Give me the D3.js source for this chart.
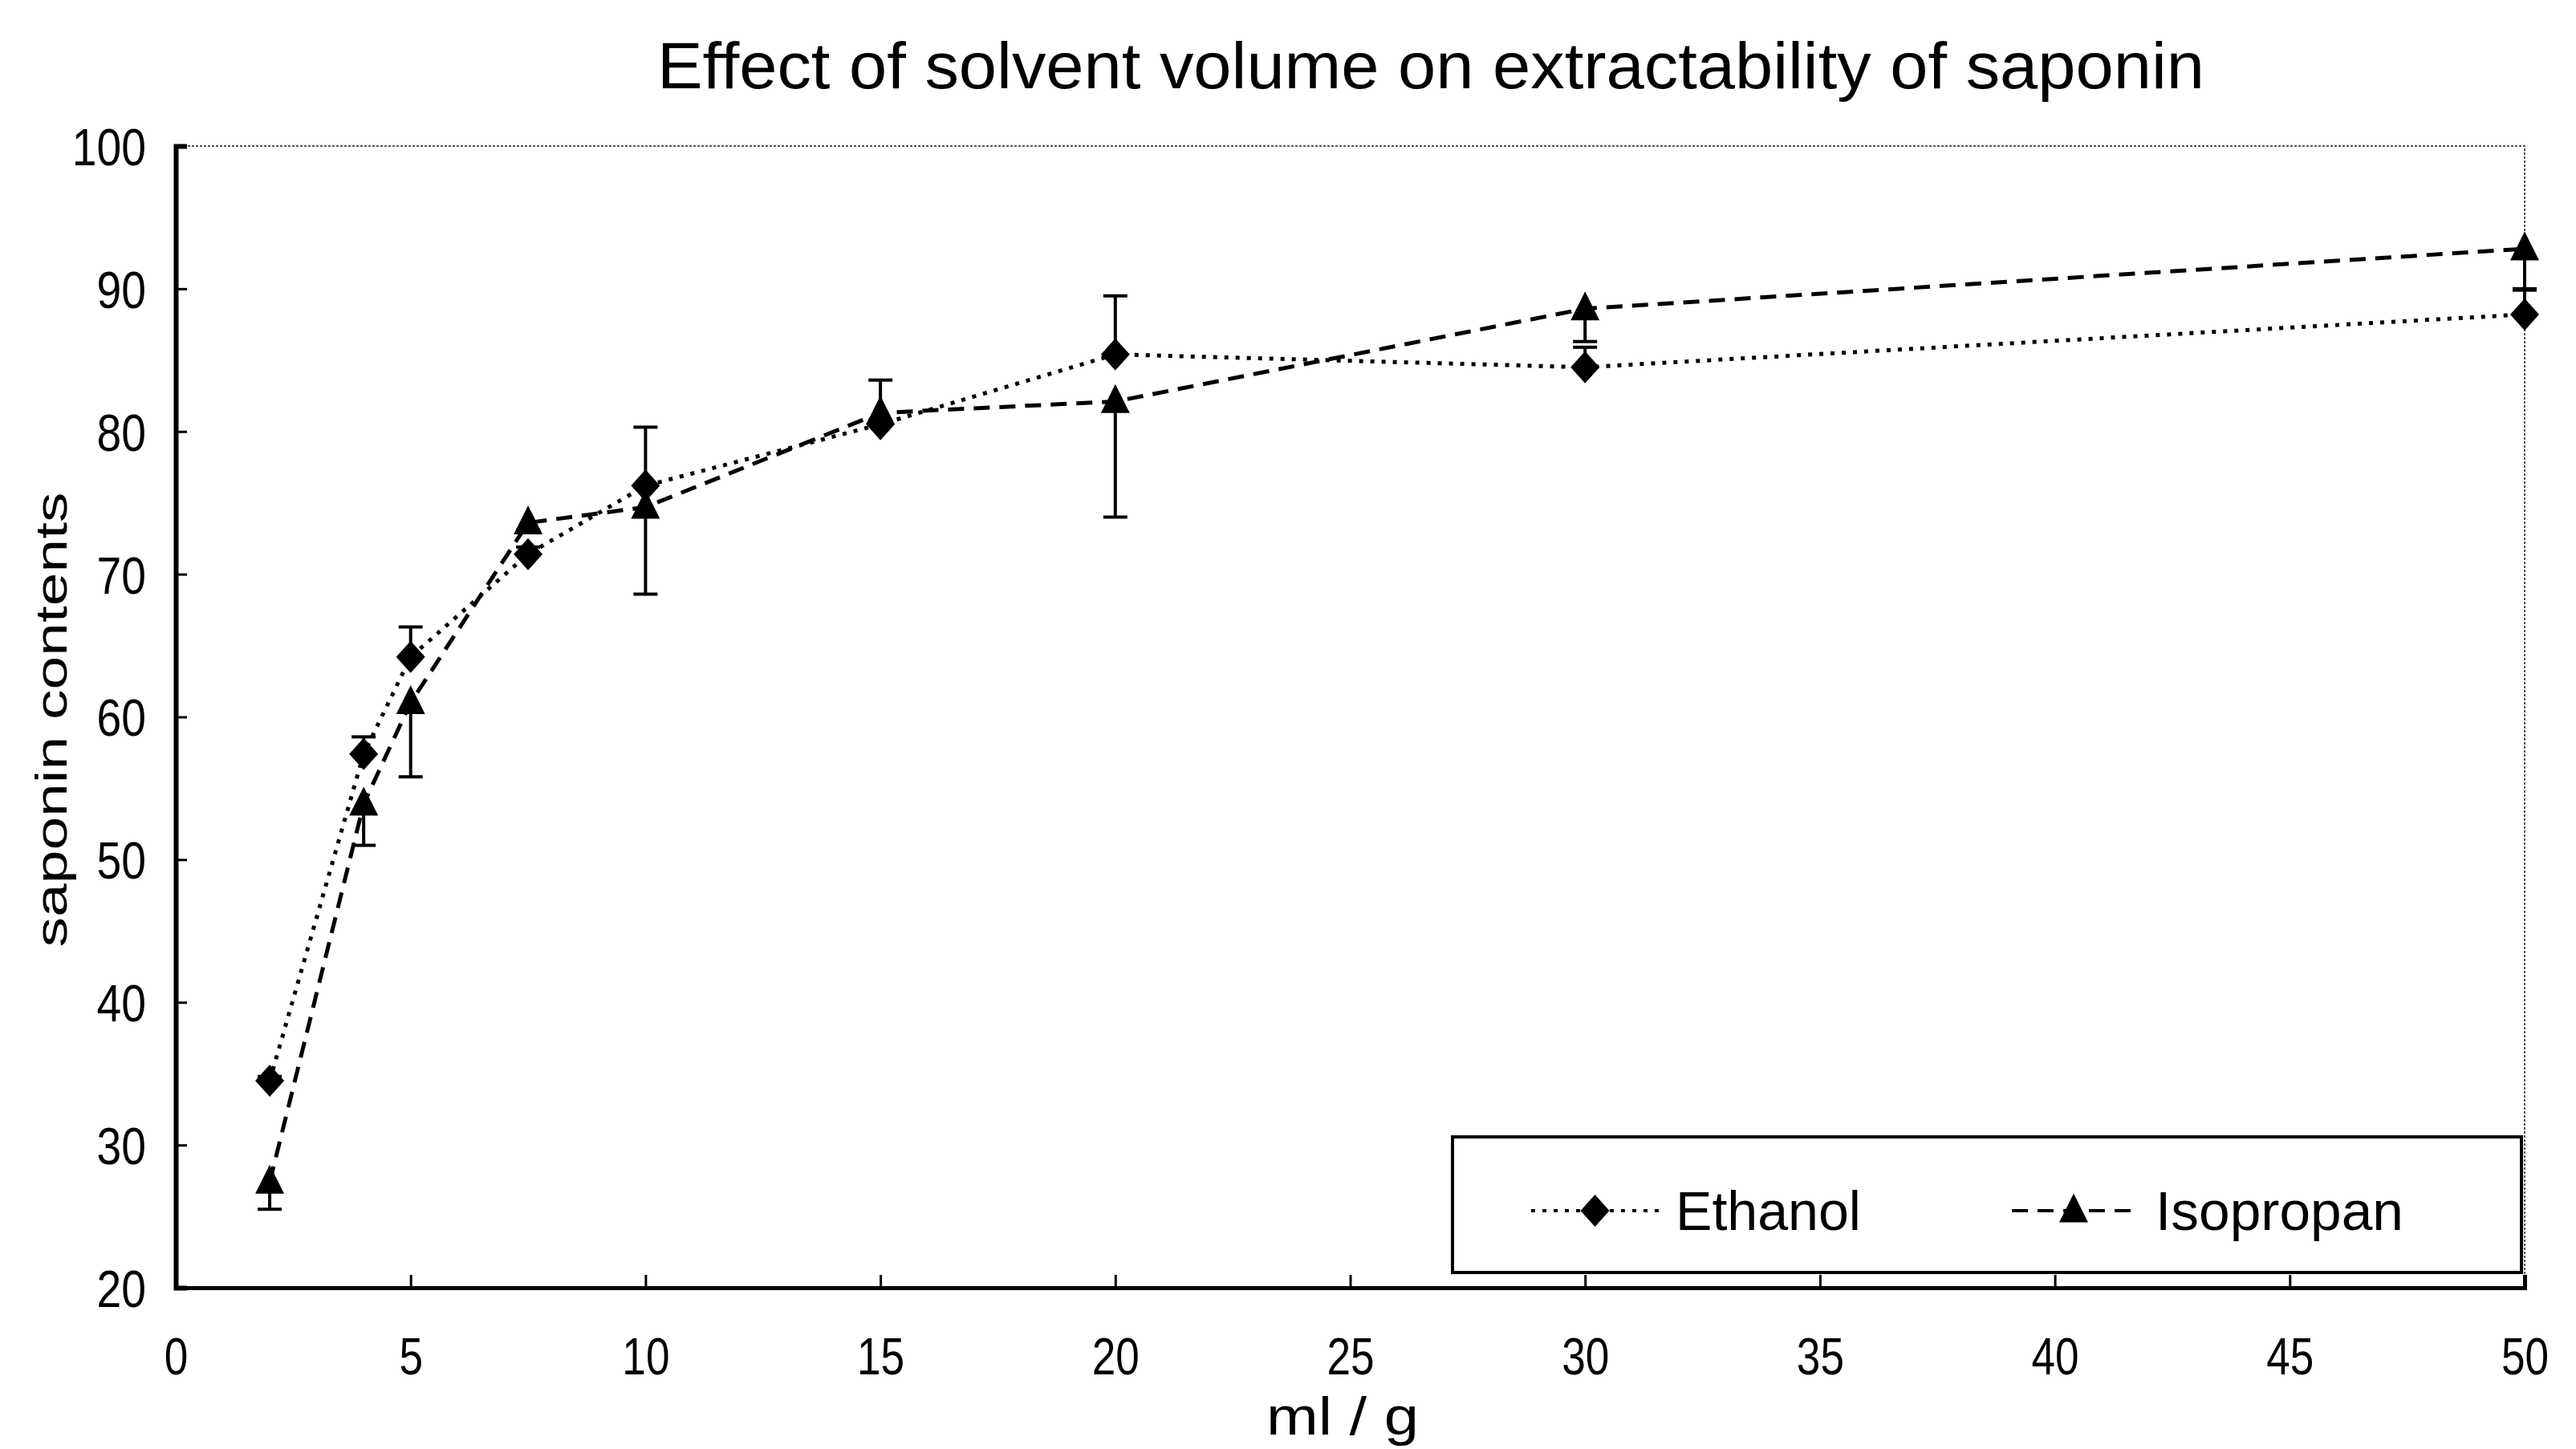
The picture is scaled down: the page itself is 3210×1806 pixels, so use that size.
<!DOCTYPE html>
<html>
<head>
<meta charset="utf-8">
<script src="https://cdn.jsdelivr.net/npm/d3@7"></script>
<style>
  body { margin: 0; background: #fff; }
  text { font-family: "Liberation Sans", Arial, sans-serif; fill: #000; }
</style>
</head>
<body>
<script>
// data
var ratio = [2, 4, 5, 7.5, 10, 15, 20, 30, 50];
var ethanol = [34.5, 57.4, 64.2, 71.4, 76.2, 80.5, 85.4, 84.5, 88.2];
var ethanolErr = [0.3, 1.2, 2.1, 0.5, 4.1, 3.1, 4.1, 1.4, 1.7];     // drawn upward
var isopropan = [27.4, 53.9, 61.0, 73.6, 74.7, 81.3, 82.1, 88.6, 92.8];
var isopropanErr = [1.9, 2.9, 5.2, 0.5, 6.1, 0.5, 8.1, 2.3, 2.8];    // drawn downward
var xTickValues = [0, 5, 10, 15, 20, 25, 30, 35, 40, 45, 50];
var yTickValues = [20, 30, 40, 50, 60, 70, 80, 90, 100];
var seriesNames = ["Ethanol", "Isopropan"];

var width = 3210, height = 1806;

var svg = d3.select("body").append("svg")
    .attr("width", width)
    .attr("height", height);

svg.append("rect").attr("width", width).attr("height", height).attr("fill", "#fff");

var x = d3.scaleLinear().domain([0, 50]).range([219, 3146]);
var y = d3.scaleLinear().domain([20, 100]).range([1605, 182]);

// squeeze a text node to a given fraction of its natural width
function squeeze(sel, k) {
  sel.each(function() {
    var w = this.getComputedTextLength();
    d3.select(this).attr("textLength", w * k).attr("lengthAdjust", "spacingAndGlyphs");
  });
}

// title
svg.append("text")
    .attr("x", 1783).attr("y", 110)
    .attr("text-anchor", "middle")
    .style("font-size", "82px")
    .attr("textLength", 1928).attr("lengthAdjust", "spacingAndGlyphs")
    .text("Effect of solvent volume on extractability of saponin");

// plot frame: thin dotted top and right
svg.append("path")
    .attr("d", "M" + x(0) + "," + y(100) + "H" + x(50) + "V" + y(20))
    .attr("fill", "none").attr("stroke", "#555").attr("stroke-width", 2)
    .attr("stroke-dasharray", "3,2");

// x axis
var xAxis = svg.append("g")
    .attr("transform", "translate(0," + y(20) + ")")
    .call(d3.axisBottom(x).tickValues(xTickValues).tickSize(-16).tickPadding(0).tickFormat(d3.format("d")));
xAxis.select(".domain").attr("stroke", "#000").attr("stroke-width", 5);
xAxis.selectAll(".tick line").attr("stroke", "#000").attr("stroke-width", 3);
xAxis.selectAll(".tick text")
    .attr("y", 108).attr("dy", null)
    .style("font-size", "64px");
squeeze(xAxis.selectAll(".tick text"), 0.83);

// y axis
var yAxis = svg.append("g")
    .attr("transform", "translate(" + x(0) + ",0)")
    .call(d3.axisLeft(y).tickValues(yTickValues).tickSize(-14).tickPadding(0).tickFormat(d3.format("d")));
yAxis.select(".domain").attr("stroke", "#000").attr("stroke-width", 6);
yAxis.selectAll(".tick line").attr("stroke", "#000").attr("stroke-width", 3);
yAxis.selectAll(".tick text")
    .attr("x", -37).attr("dy", "0.36em")
    .style("font-size", "65px");
squeeze(yAxis.selectAll(".tick text"), 0.85);

// axis titles
svg.append("text")
    .attr("x", 1673).attr("y", 1788)
    .attr("text-anchor", "middle")
    .style("font-size", "66px")
    .attr("textLength", 190).attr("lengthAdjust", "spacingAndGlyphs")
    .text("ml / g");

svg.append("text")
    .attr("transform", "translate(83,897) rotate(-90)")
    .attr("text-anchor", "middle")
    .style("font-size", "56px")
    .attr("textLength", 567).attr("lengthAdjust", "spacingAndGlyphs")
    .text("saponin contents");

var line = d3.line()
    .x(function(d) { return x(d[0]); })
    .y(function(d) { return y(d[1]); });

var ethData = ratio.map(function(r, i) { return [r, ethanol[i], ethanolErr[i]]; });
var isoData = ratio.map(function(r, i) { return [r, isopropan[i], -isopropanErr[i]]; });

function diamondPath(w, h) {
  return "M0," + (-h / 2) + "L" + (w / 2) + ",0L0," + (h / 2) + "L" + (-w / 2) + ",0Z";
}
function trianglePath(w, h) {
  return "M0," + (-h * 0.6) + "L" + (w / 2) + "," + (h * 0.4) + "L" + (-w / 2) + "," + (h * 0.4) + "Z";
}

var series = [
  { name: seriesNames[0], data: ethData, dash: "5,9", marker: diamondPath(36, 40) },
  { name: seriesNames[1], data: isoData, dash: "20,12", marker: trianglePath(36, 36) }
];

series.forEach(function(s) {
  var g = svg.append("g");

  g.append("path")
      .datum(s.data)
      .attr("d", line)
      .attr("fill", "none")
      .attr("stroke", "#000")
      .attr("stroke-width", 5)
      .attr("stroke-dasharray", s.dash);

  // error bars (one-sided)
  var eb = g.selectAll(".err").data(s.data).enter().append("g");
  eb.append("line")
      .attr("x1", function(d) { return x(d[0]); })
      .attr("x2", function(d) { return x(d[0]); })
      .attr("y1", function(d) { return y(d[1]); })
      .attr("y2", function(d) { return y(d[1] + d[2]); })
      .attr("stroke", "#000").attr("stroke-width", 4);
  eb.append("line")
      .attr("x1", function(d) { return x(d[0]) - 15; })
      .attr("x2", function(d) { return x(d[0]) + 15; })
      .attr("y1", function(d) { return y(d[1] + d[2]); })
      .attr("y2", function(d) { return y(d[1] + d[2]); })
      .attr("stroke", "#000").attr("stroke-width", 4);

  g.selectAll(".mark").data(s.data).enter().append("path")
      .attr("d", s.marker)
      .attr("transform", function(d) { return "translate(" + x(d[0]) + "," + y(d[1]) + ")"; })
      .attr("fill", "#000");
});

// legend
var legend = svg.append("g");
legend.append("rect")
    .attr("x", 1810).attr("y", 1417)
    .attr("width", 1332).attr("height", 169)
    .attr("fill", "#fff").attr("stroke", "#000").attr("stroke-width", 4);

var legendItems = [
  { x0: 1908, x1: 2067, tx: 2088, tw: 231, s: series[0] },
  { x0: 2507, x1: 2661, tx: 2686, tw: 309, s: series[1] }
];
legendItems.forEach(function(li) {
  legend.append("line")
      .attr("x1", li.x0).attr("x2", li.x1)
      .attr("y1", 1509).attr("y2", 1509)
      .attr("stroke", "#000").attr("stroke-width", 4)
      .attr("stroke-dasharray", li.s.dash);
  legend.append("path")
      .attr("d", li.s.marker)
      .attr("transform", "translate(" + ((li.x0 + li.x1) / 2) + ",1509)")
      .attr("fill", "#000");
  legend.append("text")
      .attr("x", li.tx).attr("y", 1533)
      .style("font-size", "68px")
      .attr("textLength", li.tw).attr("lengthAdjust", "spacingAndGlyphs")
      .text(li.s.name);
});
</script>
</body>
</html>
